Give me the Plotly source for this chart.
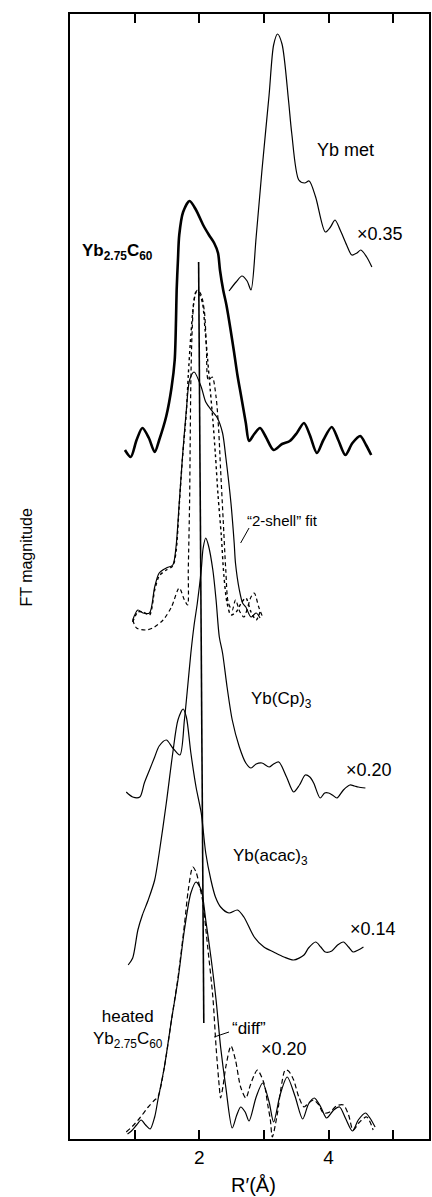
import plotly.graph_objects as go

# Fourier-transform magnitudes of Yb L3-edge EXAFS, stacked with vertical offsets
# (R' in angstrom, magnitude in arbitrary units including the stacking offset)

# Yb metal reference (x0.35)
yb_met_r = [2.46, 2.57, 2.66, 2.74, 2.80, 2.88, 2.97, 3.08, 3.15, 3.21, 3.28, 3.38, 3.43,
            3.54, 3.63, 3.70, 3.80, 3.95, 4.03, 4.10, 4.18, 4.28, 4.36, 4.44, 4.50, 4.59, 4.67]
yb_met_m = [848, 857, 863, 858, 849, 902, 969, 1044, 1094, 1105, 1095, 1039, 1006,
            959, 956, 958, 942, 907, 912, 919, 909, 894, 884, 886, 889, 882, 872]

# Yb2.75C60 as prepared
ybc60_r = [0.85, 0.94, 1.03, 1.12, 1.22, 1.31, 1.38, 1.49, 1.57, 1.62, 1.64, 1.65, 1.67,
           1.69, 1.75, 1.85, 1.95, 2.06, 2.15, 2.23, 2.29, 2.32, 2.37, 2.42, 2.48, 2.54,
           2.59, 2.65, 2.72, 2.77, 2.85, 2.94, 3.03, 3.15, 3.28, 3.40, 3.51, 3.62, 3.71,
           3.82, 3.92, 4.05, 4.15, 4.26, 4.37, 4.49, 4.58, 4.66]
ybc60_m = [689, 682, 699, 711, 701, 687, 699, 723, 751, 779, 819, 849, 879,
           904, 927, 938, 929, 914, 904, 896, 886, 869, 849, 834, 811, 786,
           764, 742, 716, 698, 705, 711, 702, 689, 695, 698, 706, 716, 704,
           686, 699, 712, 699, 684, 696, 703, 694, 684]

# first-shell data with the "2-shell" fit and its shell contribution
shell_r = [0.97, 1.05, 1.13, 1.23, 1.31, 1.38, 1.49, 1.59, 1.64, 1.69, 1.74, 1.80, 1.85,
           1.92, 2.03, 2.10, 2.21, 2.28, 2.36, 2.41, 2.49, 2.54, 2.56, 2.62, 2.67, 2.72,
           2.80, 2.88, 2.94]
shell_m = [519, 529, 526, 526, 552, 566, 571, 574, 592, 636, 682, 729, 759,
           767, 752, 737, 727, 721, 706, 682, 636, 596, 576, 549, 536, 532,
           522, 526, 521]

fit_r = [0.97, 1.05, 1.13, 1.23, 1.31, 1.38, 1.49, 1.59, 1.64, 1.69, 1.74, 1.80, 1.83,
         1.87, 1.91, 1.95, 2.00, 2.05, 2.09, 2.13, 2.17, 2.21, 2.25, 2.29, 2.34, 2.38,
         2.43, 2.49, 2.57, 2.65, 2.72, 2.80, 2.88, 2.94]
fit_m = [517, 527, 527, 524, 549, 563, 569, 573, 587, 634, 681, 727, 764,
         804, 834, 847, 845, 836, 809, 779, 749, 719, 684, 644, 604, 564,
         536, 524, 527, 536, 541, 527, 519, 527]

contrib_r = [0.97, 1.03, 1.18, 1.28, 1.44, 1.57, 1.69, 1.77, 1.82, 1.83, 1.85, 1.86, 1.87,
             1.89, 1.92, 1.97, 2.03, 2.08, 2.11, 2.14, 2.20, 2.26, 2.30, 2.33, 2.37, 2.41,
             2.45, 2.51, 2.56, 2.63, 2.69, 2.80, 2.85, 2.92, 2.98]
contrib_m = [519, 511, 509, 511, 519, 532, 551, 539, 534, 569, 636, 702, 759,
             809, 839, 849, 844, 827, 792, 759, 762, 742, 709, 669, 619, 569,
             536, 529, 539, 527, 522, 542, 546, 532, 522]

# Yb(Cp)3 reference (x0.20)
cp_r = [0.87, 0.97, 1.08, 1.15, 1.23, 1.31, 1.38, 1.49, 1.59, 1.70, 1.77, 1.82, 1.87,
        1.92, 1.97, 2.03, 2.06, 2.10, 2.14, 2.21, 2.26, 2.31, 2.36, 2.43, 2.51, 2.62,
        2.72, 2.80, 2.88, 2.97, 3.08, 3.15, 3.23, 3.35, 3.46, 3.55, 3.64, 3.71, 3.77,
        3.87, 3.94, 4.00, 4.06, 4.13, 4.23, 4.33, 4.40, 4.46, 4.57]
cp_m = [347, 342, 342, 356, 369, 382, 393, 399, 391, 384, 419, 452, 486,
        514, 536, 569, 591, 601, 594, 569, 539, 502, 486, 452, 419, 392,
        376, 371, 375, 376, 372, 375, 377, 362, 347, 354, 364, 362, 356,
        341, 346, 346, 344, 341, 349, 354, 353, 352, 351]

# Yb(acac)3 reference (x0.14)
acac_r = [0.90, 0.97, 1.05, 1.12, 1.21, 1.31, 1.38, 1.49, 1.59, 1.67, 1.75, 1.80, 1.87,
          1.95, 2.03, 2.10, 2.18, 2.25, 2.33, 2.46, 2.59, 2.69, 2.85, 3.00, 3.15, 3.31,
          3.46, 3.62, 3.69, 3.80, 3.88, 3.95, 4.05, 4.14, 4.23, 4.31, 4.38, 4.46, 4.54]
acac_m = [174, 181, 209, 224, 239, 259, 286, 336, 386, 419, 430, 422, 386,
          352, 326, 286, 259, 242, 232, 226, 229, 222, 202, 192, 187, 182,
          179, 184, 191, 197, 192, 187, 188, 194, 197, 192, 187, 189, 192]

# heated Yb2.75C60 (x0.20) and the difference spectrum
heated_r = [0.89, 0.95, 1.03, 1.10, 1.17, 1.24, 1.31, 1.36, 1.46, 1.57, 1.67, 1.77, 1.87,
            1.95, 2.03, 2.10, 2.18, 2.26, 2.33, 2.41, 2.51, 2.58, 2.64, 2.71, 2.77, 2.88,
            2.98, 3.08, 3.15, 3.25, 3.36, 3.48, 3.60, 3.69, 3.78, 3.88, 3.97, 4.08, 4.17,
            4.26, 4.37, 4.46, 4.57, 4.64, 4.72]
heated_m = [5, 8, 14, 19, 14, 10, 22, 39, 72, 119, 159, 209, 246,
            257, 249, 219, 182, 139, 92, 52, 11, 24, 32, 27, 18, 42,
            56, 37, 17, 44, 62, 43, 20, 35, 41, 32, 21, 29, 32,
            21, 8, 19, 26, 21, 12]

diff_r = [0.87, 0.97, 1.08, 1.21, 1.31, 1.36, 1.46, 1.57, 1.67, 1.77, 1.83, 1.90, 1.95,
          2.00, 2.05, 2.13, 2.21, 2.26, 2.31, 2.33, 2.37, 2.41, 2.49, 2.56, 2.64, 2.72,
          2.79, 2.85, 2.90, 3.00, 3.06, 3.10, 3.13, 3.21, 3.26, 3.33, 3.38, 3.46, 3.54,
          3.62, 3.69, 3.77, 3.85, 3.92, 4.02, 4.12, 4.23, 4.31, 4.38, 4.48, 4.59, 4.69]
diff_m = [7, 13, 21, 32, 39, 42, 72, 119, 161, 214, 249, 272, 267,
          254, 239, 192, 142, 92, 52, 41, 54, 72, 93, 79, 52, 41,
          54, 64, 69, 56, 34, 19, 2, 26, 49, 69, 68, 59, 42,
          32, 36, 39, 34, 26, 27, 33, 34, 24, 9, 17, 22, 9]

# vertical guide through the first-shell peak
guide_r = [1.99, 2.07]
guide_m = [877, 116]

# text labels: (text, R, magnitude, size, anchor)
labels = [
    ("Yb met", 4.26, 989, 18, "center"),
    ("\u00d70.35", 4.80, 905, 18, "center"),
    ("<b>Yb<sub>2.75</sub>C<sub>60</sub></b>", 0.15, 887, 17, "left"),
    ("\u201c2-shell\u201d fit", 3.29, 619, 15, "center"),
    ("Yb(Cp)<sub>3</sub>", 2.77, 439, 17, "left"),
    ("\u00d70.20", 4.63, 369, 18, "center"),
    ("Yb(acac)<sub>3</sub>", 2.49, 282, 17, "left"),
    ("\u00d70.14", 4.69, 210, 18, "center"),
    ("heated<br>Yb<sub>2.75</sub>C<sub>60</sub>", 0.90, 110, 17, "center"),
    ("\u201cdiff\u201d", 2.77, 111, 17, "center"),
    ("\u00d70.20", 3.31, 90, 18, "center"),
]

# leader lines from labels to curves: (R0, m0, R1, m1)
leaders = [
    (2.64, 596, 2.77, 611),
    (2.23, 102, 2.46, 107),
]

FONT = "Liberation Sans, Arial, Helvetica, sans-serif"
SMOOTH = 0.8

fig = go.Figure()


def curve(r, m, width=1.2, dash="solid"):
    fig.add_trace(go.Scatter(
        x=r, y=m, mode="lines",
        line=dict(color="black", width=width, dash=dash, shape="spline", smoothing=SMOOTH),
        hoverinfo="skip", showlegend=False,
    ))


curve(yb_met_r, yb_met_m)
curve(ybc60_r, ybc60_m, width=2.6)
curve(shell_r, shell_m)
curve(fit_r, fit_m, width=1.4, dash="dot")
curve(contrib_r, contrib_m, width=1.2, dash="4px,3px")
curve(cp_r, cp_m)
curve(acac_r, acac_m)
curve(heated_r, heated_m)
curve(diff_r, diff_m, dash="5px,3px")

fig.add_trace(go.Scatter(
    x=guide_r, y=guide_m, mode="lines",
    line=dict(color="black", width=1.6),
    hoverinfo="skip", showlegend=False,
))

for r0, m0, r1, m1 in leaders:
    fig.add_shape(type="line", x0=r0, y0=m0, x1=r1, y1=m1, xref="x", yref="y",
                  line=dict(color="black", width=1))

for text, r, m, size, anchor in labels:
    fig.add_annotation(x=r, y=m, xref="x", yref="y", text=text, showarrow=False,
                       xanchor=anchor, yanchor="middle", align="center",
                       font=dict(family=FONT, size=size, color="black"))

fig.add_annotation(x=-0.122, y=0.517, xref="paper", yref="paper", text="FT magnitude",
                   textangle=-90, showarrow=False, xanchor="center", yanchor="middle",
                   font=dict(family=FONT, size=16, color="black"))
fig.add_annotation(x=0.512, y=-0.041, xref="paper", yref="paper", text="R\u2032(\u00c5)",
                   showarrow=False, xanchor="center", yanchor="middle",
                   font=dict(family=FONT, size=20, color="black"))

fig.update_layout(
    width=432, height=1197,
    margin=dict(l=70, r=1, t=14, b=58),
    paper_bgcolor="white", plot_bgcolor="white",
    font=dict(family=FONT, color="black"),
)
fig.update_xaxes(
    range=[0, 5.554], showgrid=False, zeroline=False,
    showline=True, linewidth=2, linecolor="black", mirror="ticks",
    ticks="inside", ticklen=9, tickwidth=2, tickcolor="black",
    tickvals=[1, 2, 3, 4, 5], ticktext=["", "2", "", "4", ""],
    tickfont=dict(family=FONT, size=19, color="black"),
)
fig.update_yaxes(
    range=[0, 1125], showgrid=False, zeroline=False,
    showline=True, linewidth=2, linecolor="black", mirror=True,
    ticks="", showticklabels=False,
)

fig.write_html("out.html")
